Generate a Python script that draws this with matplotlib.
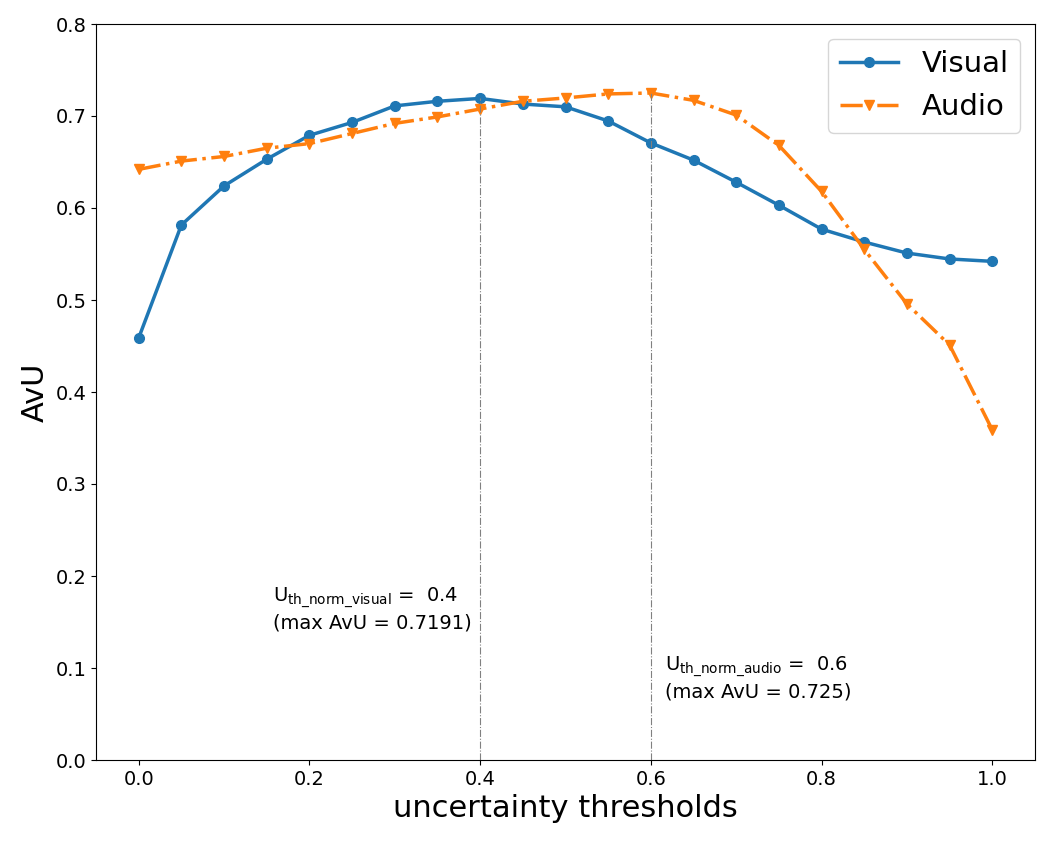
import matplotlib
matplotlib.use("Agg")
import matplotlib.pyplot as plt

thresholds = [0.0, 0.05, 0.1, 0.15, 0.2, 0.25, 0.3, 0.35, 0.4, 0.45, 0.5,
              0.55, 0.6, 0.65, 0.7, 0.75, 0.8, 0.85, 0.9, 0.95, 1.0]
avu_visual = [0.4587, 0.5815, 0.624, 0.653, 0.679, 0.693, 0.711, 0.716, 0.7191, 0.713, 0.710,
              0.6946, 0.6707, 0.652, 0.628, 0.603, 0.577, 0.563, 0.551, 0.5446, 0.542]
avu_audio = [0.642, 0.651, 0.656, 0.665, 0.670, 0.681, 0.692, 0.699, 0.7076, 0.716, 0.7196,
             0.724, 0.725, 0.717, 0.701, 0.668, 0.618, 0.555, 0.4957, 0.451, 0.3587]

best_visual = 0.4
best_audio = 0.6
max_visual = 0.7191
max_audio = 0.725

fig = plt.figure(figsize=(10.54, 8.43), dpi=100)
ax = fig.add_axes([96 / 1054, 83 / 843, 939 / 1054, 736 / 843])

ax.plot(thresholds, avu_visual, "-o", color="#1f77b4", linewidth=2.5, markersize=7, label="Visual")
ax.plot(thresholds, avu_audio, "-.v", color="#ff7f0e", linewidth=2.5, markersize=7, label="Audio")

# dash-dot markers for the best thresholds
ax.vlines(best_visual, 0, max_visual, colors="gray", linestyles="-.", linewidth=0.8)
ax.vlines(best_audio, 0, max_audio, colors="gray", linestyles="-.", linewidth=0.8)

ax.text(0.157, 0.143, r"U$_{\mathrm{th\_norm\_visual}}$ =  " + f"{best_visual}\n(max AvU = {max_visual})",
        fontsize=14)
ax.text(0.617, 0.068, r"U$_{\mathrm{th\_norm\_audio}}$ =  " + f"{best_audio}\n(max AvU = {max_audio})",
        fontsize=14)

ax.set_ylim(0, 0.8)
ax.set_xlim(-0.05, 1.05)
ax.tick_params(labelsize=14)
ax.set_xlabel("uncertainty thresholds", fontsize=22)
ax.set_ylabel("AvU", fontsize=22)
ax.legend(fontsize=21, loc="upper right")

plt.savefig("out.png")
plt.close()
